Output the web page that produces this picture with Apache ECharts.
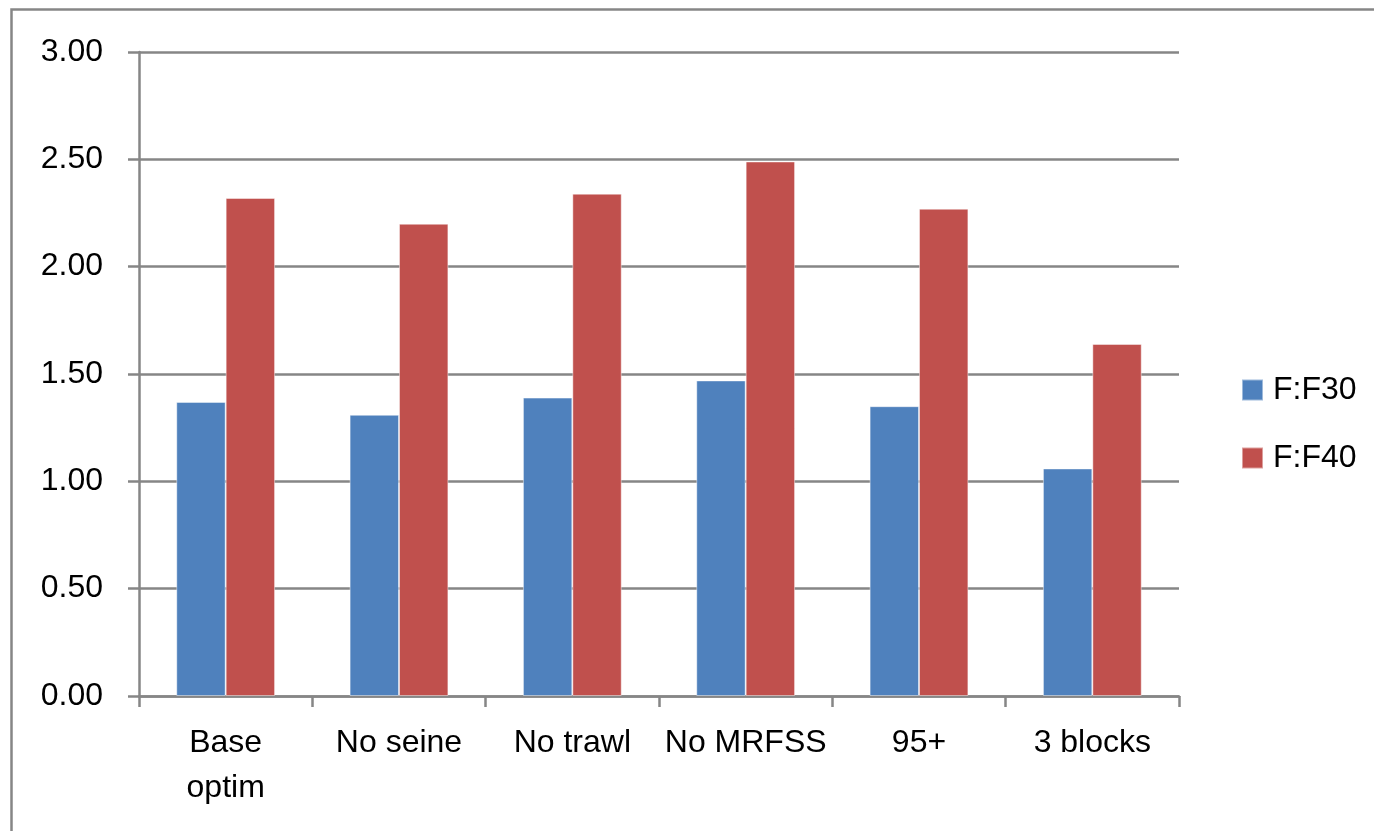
<!DOCTYPE html>
<html>
<head>
<meta charset="utf-8">
<style>
  html, body { margin: 0; padding: 0; background: #fff; }
  #chart { width: 1374px; height: 831px; }
</style>
<script src="https://cdn.jsdelivr.net/npm/echarts@6/dist/echarts.min.js"></script>
</head>
<body>
<div id="chart"></div>
<script>
// Runs compared against the F30 and F40 reference points
const categories = ['Base optim', 'No seine', 'No trawl', 'No MRFSS', '95+', '3 blocks'];
const seriesNames = ['F:F30', 'F:F40'];
const f30 = [1.37, 1.31, 1.39, 1.47, 1.35, 1.06];
const f40 = [2.32, 2.20, 2.34, 2.49, 2.27, 1.64];
const yTicks = { min: 0, max: 3, interval: 0.5 };

const FONT = '"Liberation Sans", Arial, sans-serif';
const FONT_SIZE = 32;
const GREY = '#868686';

const chart = echarts.init(document.getElementById('chart'));

// long category names break onto two lines
const wrapLabel = v => v.length > 9 ? v.replace(' ', '\n') : v;

chart.setOption({
  animation: false,
  backgroundColor: '#ffffff',
  graphic: [{
    type: 'rect',
    shape: { x: 11.5, y: 9.5, width: 1400, height: 900 },
    style: { fill: 'none', stroke: GREY, lineWidth: 2.5 },
    silent: true
  }],
  grid: { left: 139, top: 52, right: 195, bottom: 135, containLabel: false },
  legend: {
    orient: 'vertical',
    left: 1241,
    top: 374,
    padding: 0,
    icon: 'rect',
    itemWidth: 21,
    itemHeight: 21,
    itemGap: 36,
    data: seriesNames,
    textStyle: { fontFamily: FONT, fontSize: FONT_SIZE, color: '#000', padding: [0, 0, 0, 5] }
  },
  xAxis: {
    type: 'category',
    data: categories,
    axisLine: { lineStyle: { color: GREY, width: 2.5 } },
    axisTick: { show: true, length: 11, alignWithLabel: false, lineStyle: { color: GREY, width: 2.5 } },
    axisLabel: {
      interval: 0,
      margin: 25,
      formatter: wrapLabel,
      fontFamily: FONT,
      fontSize: FONT_SIZE,
      lineHeight: 45,
      color: '#000'
    },
    splitLine: { show: false }
  },
  yAxis: {
    type: 'value',
    min: yTicks.min,
    max: yTicks.max,
    interval: yTicks.interval,
    axisLine: { show: true, lineStyle: { color: GREY, width: 2.5 } },
    axisTick: { show: true, length: 11, lineStyle: { color: GREY, width: 2.5 } },
    axisLabel: {
      margin: 36,
      formatter: v => v.toFixed(2),
      fontFamily: FONT,
      fontSize: FONT_SIZE,
      color: '#000'
    },
    splitLine: { show: true, lineStyle: { color: GREY, width: 2.5 } }
  },
  series: [
    {
      name: seriesNames[0],
      type: 'bar',
      data: f30,
      barGap: '0%',
      barCategoryGap: '43%',
      itemStyle: { color: '#4F81BD', borderColor: 'rgba(255,255,255,0.45)', borderWidth: 1 }
    },
    {
      name: seriesNames[1],
      type: 'bar',
      data: f40,
      barGap: '0%',
      barCategoryGap: '43%',
      itemStyle: { color: '#C0504D', borderColor: 'rgba(255,255,255,0.45)', borderWidth: 1 }
    }
  ]
});
</script>
</body>
</html>
